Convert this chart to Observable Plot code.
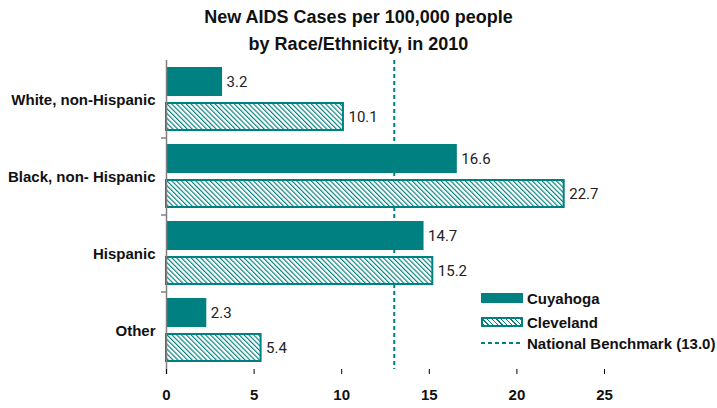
<!DOCTYPE html>
<html>
<head>
<meta charset="utf-8">
<script src="https://cdn.jsdelivr.net/npm/d3@7"></script>
<script src="https://cdn.jsdelivr.net/npm/@observablehq/plot@0.6"></script>
<style>
  body { margin: 0; background: #fff; width: 717px; height: 408px; position: relative; overflow: hidden;
         font-family: "Liberation Sans", Arial, sans-serif; color: #111; }
  #title { height: 58px; box-sizing: border-box; padding-top: 4px; text-align: center;
           font-weight: bold; font-size: 18px; line-height: 27px; }
  .lg { position: absolute; left: 481px; height: 20px; display: flex; align-items: center;
        font-weight: bold; font-size: 15px; white-space: nowrap; }
  .sw { width: 42px; height: 10px; margin-right: 4px; box-sizing: border-box; }
  .sw.solid { background: #008080; }
  .sw.hatch { border: 2px solid #008080;
              background: repeating-linear-gradient(45deg, #008080 0 1.1px, #fff 1.1px 3.3px); }
  .sw.dash { height: 2px; background: repeating-linear-gradient(90deg, #008080 0 4px, transparent 4px 7px); }
</style>
</head>
<body>
<div id="title">New AIDS Cases per 100,000 people<br>by Race/Ethnicity, in 2010</div>
<div id="chart"></div>
<div class="lg" style="top:288px"><div class="sw solid"></div>Cuyahoga</div>
<div class="lg" style="top:312px"><div class="sw hatch"></div>Cleveland</div>
<div class="lg" style="top:333px"><div class="sw dash"></div>National Benchmark (13.0)</div>
<script>
const categories = ["White, non-Hispanic", "Black, non- Hispanic", "Hispanic", "Other"];
const cuyahoga = [3.2, 16.6, 14.7, 2.3];
const cleveland = [10.1, 22.7, 15.2, 5.4];
const benchmark = 13.0;
const xTicks = [0, 5, 10, 15, 20, 25];

const teal = "#008080";
const cuyData = categories.map((c, i) => ({category: c, value: cuyahoga[i]}));
const cleData = categories.map((c, i) => ({category: c, value: cleveland[i]}));

const plot = Plot.plot({
  width: 717,
  height: 350,
  marginTop: 2,
  marginBottom: 39,
  marginLeft: 166,
  marginRight: 113,
  style: {fontFamily: "Liberation Sans, Arial, sans-serif", color: "#111", background: "#fff"},
  x: {domain: [0, 25]},
  y: {domain: categories, padding: 0},
  marks: [
    Plot.ruleX([benchmark], {stroke: teal, strokeWidth: 2, strokeDasharray: "4,3"}),
    Plot.barX(cuyData, {x: "value", y: "category", fill: teal, insetTop: 6, insetBottom: 42}),
    Plot.barX(cleData, {x: "value", y: "category", fill: "url(#hatch)", stroke: teal, strokeWidth: 2,
                        insetTop: 42, insetBottom: 8}),
    Plot.text(cuyData, {x: "value", y: "category", text: d => d.value.toFixed(1), textAnchor: "start",
                        dx: 4, dy: -18, fontSize: 15, fontFamily: "Roboto, sans-serif", fill: "#222"}),
    Plot.text(cleData, {x: "value", y: "category", text: d => d.value.toFixed(1), textAnchor: "start",
                        dx: 5, dy: 17, fontSize: 15, fontFamily: "Roboto, sans-serif", fill: "#222"}),
    Plot.ruleX([0], {stroke: "#808080", strokeWidth: 1.5, insetBottom: -5}),
    Plot.axisX({ticks: xTicks, tickSize: 5, tickPadding: 15, fontSize: 15, fontWeight: "bold",
                label: null, stroke: "#000", fill: "#111"}),
    Plot.ruleY([0], {frameAnchor: "bottom", stroke: "#000"}),
    Plot.axisY({tickSize: 0, tickPadding: 11, fontSize: 15, fontWeight: "bold", label: null, fill: "#111"})
  ]
});

const svg = d3.select(plot);
svg.insert("defs", ":first-child").html(
  '<pattern id="hatch" width="3.4" height="3.4" patternUnits="userSpaceOnUse" patternTransform="rotate(-45)">' +
  '<rect width="3.4" height="3.4" fill="#fff"/><rect width="1.15" height="3.4" fill="' + teal + '"/></pattern>'
);
const ys = plot.scale("y");
const xs = plot.scale("x");
const x0 = xs.apply(0);
svg.append("g").selectAll("line").data(categories.slice(1)).join("line")
  .attr("x1", x0 - 5).attr("x2", x0)
  .attr("y1", d => ys.apply(d)).attr("y2", d => ys.apply(d))
  .attr("stroke", "#808080").attr("stroke-width", 1.5);

document.getElementById("chart").append(plot);
</script>
</body>
</html>
